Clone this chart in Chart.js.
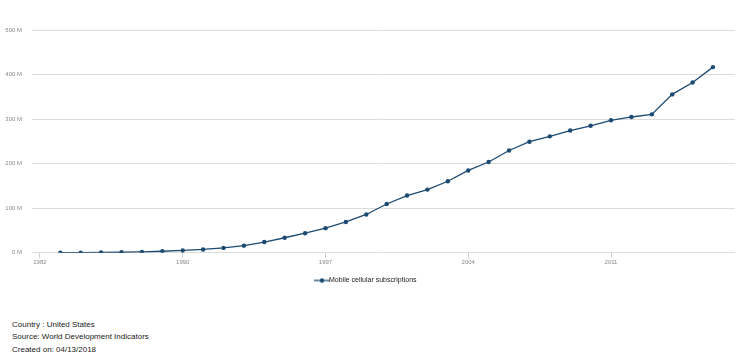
<!DOCTYPE html>
<html>
<head>
<meta charset="utf-8">
<script src="https://cdn.jsdelivr.net/npm/chart.js@4.4.1/dist/chart.umd.min.js"></script>
<style>
  body { margin: 0; background: #fff; font-family: "Liberation Sans", Arial, sans-serif; }
  #wrap { position: absolute; left: 0; top: 0; width: 750px; height: 300px; }
  .note { position: absolute; left: 12px; font-size: 8px; color: #222; }
</style>
</head>
<body>
<div id="wrap"><canvas id="subs__chart" width="750" height="300"></canvas></div>
<div class="note" style="top:320px">Country : United States</div>
<div class="note" style="top:332px">Source: World Development Indicators</div>
<div class="note" style="top:345px">Created on: 04/13/2018</div>
<script>
var years = [1984, 1985, 1986, 1987, 1988, 1989, 1990, 1991, 1992, 1993, 1994,
  1995, 1996, 1997, 1998, 1999, 2000, 2001, 2002, 2003, 2004, 2005, 2006, 2007,
  2008, 2009, 2010, 2011, 2012, 2013, 2014, 2015, 2016];
// millions of subscriptions
var subscriptions = [0.09, 0.34, 0.68, 1.23, 2.07, 3.51, 5.28, 7.56, 11.03, 16.01, 24.13,
  33.79, 44.04, 55.31, 69.21, 86.05, 109.48, 128.5, 141.8, 160.6, 184.8, 203.7, 229.6, 249.3,
  261.3, 274.3, 285.1, 297.4, 304.8, 310.7, 355.5, 382.3, 416.7];
var xTickYears = [1983, 1990, 1997, 2004, 2011];
var xTickLabels = ['1982', '1990', '1997', '2004', '2011'];
var seriesName = 'Mobile cellular subscriptions';

var lineColor = '#1b4a72';

// legend marker: short line with a dot
var marker = document.createElement('canvas');
marker.width = 16; marker.height = 6;
var mctx = marker.getContext('2d');
mctx.strokeStyle = lineColor; mctx.lineWidth = 1.3;
mctx.beginPath(); mctx.moveTo(0, 3); mctx.lineTo(16, 3); mctx.stroke();
mctx.fillStyle = lineColor;
mctx.beginPath(); mctx.arc(8, 3, 2.2, 0, Math.PI * 2); mctx.fill();

var ctx = document.getElementById('subs__chart').getContext('2d');
var subsChart = new Chart(ctx, {
  type: 'line',
  data: {
    datasets: [{
      label: seriesName,
      data: years.map(function (y, i) { return { x: y, y: subscriptions[i] }; }),
      borderColor: lineColor,
      backgroundColor: lineColor,
      borderWidth: 1.3,
      pointRadius: 2.2,
      pointBorderWidth: 0,
      pointStyle: 'circle',
      tension: 0
    }]
  },
  options: {
    responsive: false,
    animation: false,
    layout: { padding: { top: 30, right: 15, left: 0, bottom: 6 } },
    scales: {
      x: {
        type: 'linear',
        min: 1982.61,
        max: 2017.08,
        afterBuildTicks: function (s) { s.ticks = xTickYears.map(function (v) { return { value: v }; }); },
        ticks: {
          autoSkip: false,
          maxRotation: 0,
          padding: 1,
          color: '#888',
          font: { family: 'Liberation Sans', size: 6 },
          callback: function (v) { var i = xTickYears.indexOf(v); return i >= 0 ? xTickLabels[i] : ''; }
        },
        grid: { drawOnChartArea: false, drawTicks: true, tickLength: 5, color: '#d0d0d0' },
        border: { display: false }
      },
      y: {
        min: 0,
        max: 500,
        afterFit: function (s) { s.width = 32; },
        ticks: {
          stepSize: 100,
          padding: 10,
          color: '#888',
          font: { family: 'Liberation Sans', size: 6 },
          callback: function (v) { return v + ' M'; }
        },
        grid: { color: '#dcdcdc', drawTicks: false },
        border: { display: false }
      }
    },
    plugins: {
      legend: {
        position: 'bottom',
        labels: {
          usePointStyle: true,
          pointStyle: marker,
          color: '#222',
          padding: 10,
          font: { family: 'Liberation Sans', size: 7 }
        }
      },
      tooltip: { enabled: false }
    }
  }
});
</script>
</body>
</html>
